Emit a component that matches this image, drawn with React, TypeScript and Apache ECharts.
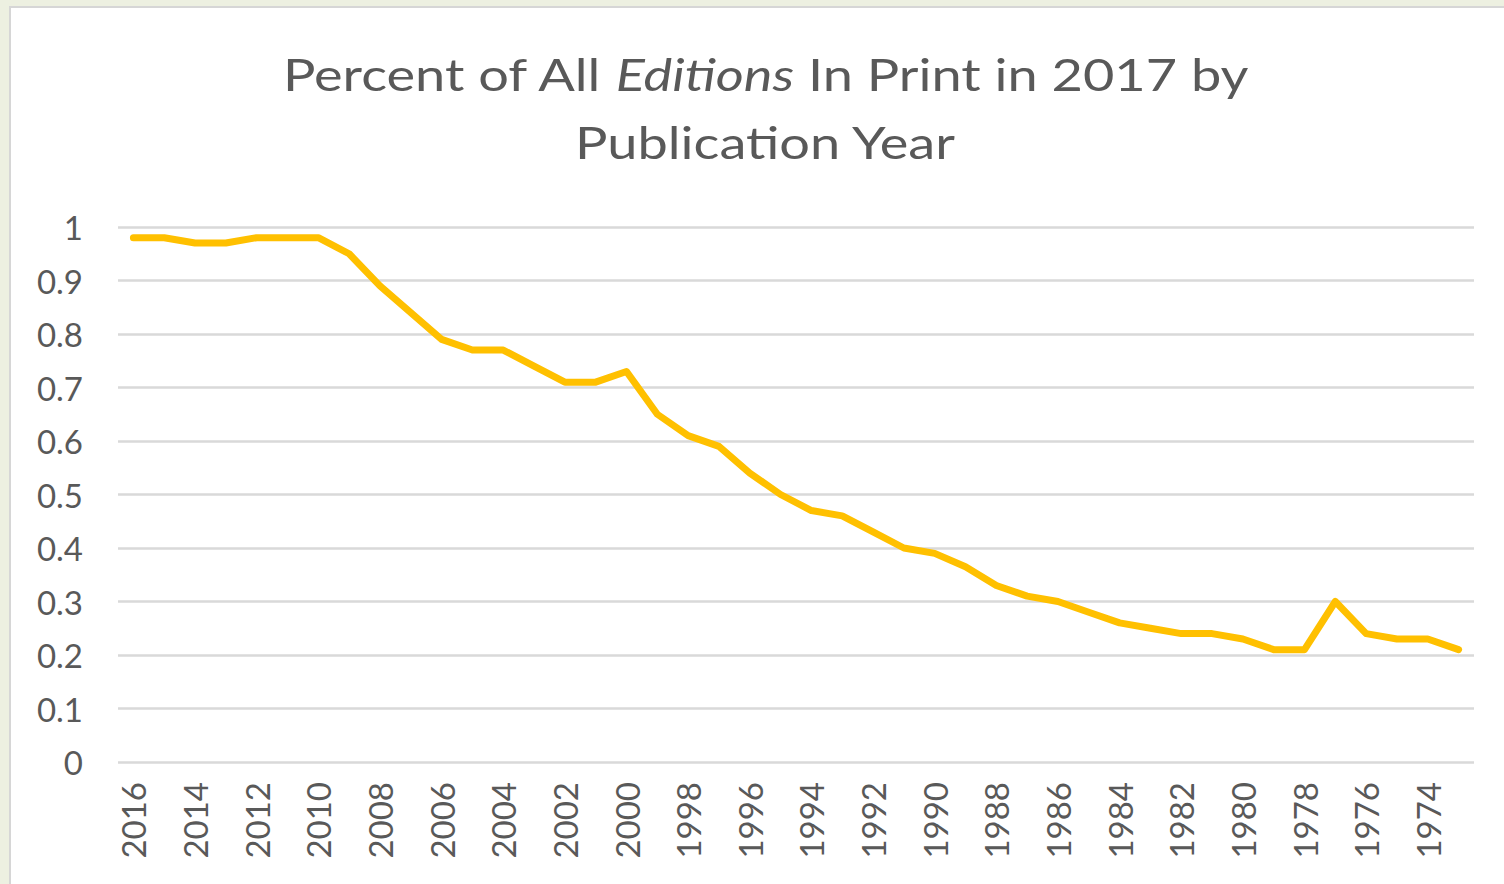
import React, { useEffect, useRef } from "react";
import * as echarts from "echarts";

const years: string[] = [
  "2016", "2015", "2014", "2013", "2012", "2011", "2010", "2009", "2008", "2007",
  "2006", "2005", "2004", "2003", "2002", "2001", "2000", "1999", "1998", "1997",
  "1996", "1995", "1994", "1993", "1992", "1991", "1990", "1989", "1988", "1987",
  "1986", "1985", "1984", "1983", "1982", "1981", "1980", "1979", "1978", "1977",
  "1976", "1975", "1974", "1973",
];

const percentInPrint: number[] = [
  0.98, 0.98, 0.97, 0.97, 0.98, 0.98, 0.98, 0.95, 0.89, 0.84,
  0.79, 0.77, 0.77, 0.74, 0.71, 0.71, 0.73, 0.65, 0.61, 0.59,
  0.54, 0.5, 0.47, 0.46, 0.43, 0.4, 0.39, 0.365, 0.33, 0.31,
  0.3, 0.28, 0.26, 0.25, 0.24, 0.24, 0.23, 0.21, 0.21, 0.3,
  0.24, 0.23, 0.23, 0.21,
];

const yTicks = { min: 0, max: 1, interval: 0.1 };

const FONT = "Lato, 'Open Sans', sans-serif";
const TEXT = "#595959";

export default function App() {
  const ref = useRef<HTMLDivElement>(null);

  useEffect(() => {
    if (!ref.current) return;
    const chart = echarts.init(ref.current, null, { renderer: "svg" });
    chart.setOption({
      animation: false,
      graphic: [
        {
          type: "text",
          x: 765,
          y: 40,
          scaleX: 1.23,
          style: {
            text: "Percent of All {i|Editions} In Print in 2017 by\nPublication Year",
            align: "center",
            verticalAlign: "top",
            fontFamily: FONT,
            fontSize: 44,
            fontWeight: "normal",
            fill: TEXT,
            lineHeight: 68,
            rich: {
              i: {
                fontFamily: FONT,
                fontSize: 44,
                fontStyle: "italic",
                fill: TEXT,
                color: TEXT,
                lineHeight: 68,
              },
            },
          },
        },
      ],
      grid: { left: 118, right: 30, top: 227, bottom: 122, containLabel: false },
      xAxis: {
        type: "category",
        data: years,
        boundaryGap: true,
        axisLine: { show: false },
        axisTick: { show: false },
        axisLabel: {
          rotate: 90,
          interval: 1,
          margin: 20,
          fontFamily: FONT,
          fontSize: 33,
          color: TEXT,
        },
        splitLine: { show: false },
      },
      yAxis: {
        type: "value",
        min: yTicks.min,
        max: yTicks.max,
        interval: yTicks.interval,
        axisLine: { show: false },
        axisTick: { show: false },
        axisLabel: {
          margin: 35,
          fontFamily: FONT,
          fontSize: 33,
          color: TEXT,
          formatter: (v: number) => String(Math.round(v * 10) / 10),
        },
        splitLine: { lineStyle: { color: "#D9D9D9", width: 2.5 } },
      },
      series: [
        {
          type: "line",
          data: percentInPrint,
          symbol: "none",
          lineStyle: { color: "#FFC000", width: 7, cap: "round", join: "round" },
        },
      ],
    });
    return () => chart.dispose();
  }, []);

  return (
    <div style={{ position: "fixed", left: 0, top: 0, width: 1504, height: 884, background: "#EDF0E1" }}>
      <div
        style={{
          position: "absolute",
          left: 9,
          top: 6,
          width: 1495,
          height: 878,
          background: "#FFFFFF",
          borderLeft: "2px solid #D6D6D6",
          borderTop: "2px solid #D6D6D6",
          boxSizing: "border-box",
        }}
      />
      <div ref={ref} style={{ position: "absolute", left: 0, top: 0, width: 1504, height: 884 }} />
    </div>
  );
}
